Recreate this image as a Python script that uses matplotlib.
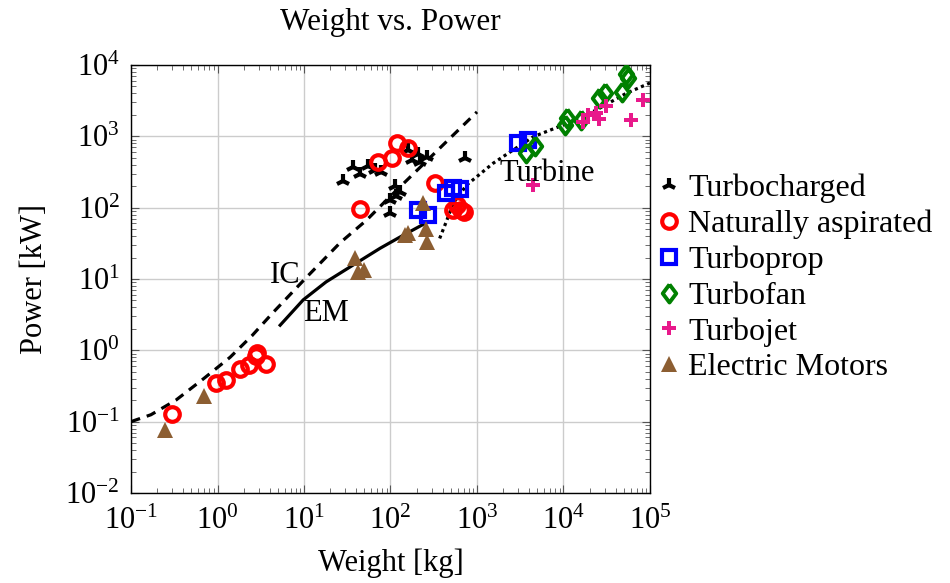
import numpy as np
import matplotlib
matplotlib.use("Agg")
import matplotlib.pyplot as plt
from matplotlib.ticker import LogLocator, NullFormatter

plt.rcParams['font.family'] = ['Liberation Serif', 'DejaVu Serif']
plt.rcParams['mathtext.fontset'] = 'custom'
plt.rcParams['mathtext.rm'] = 'Liberation Serif'
plt.rcParams['mathtext.it'] = 'Liberation Serif:italic'

# weight [kg], power [kW]
turbo_w = [28, 37, 44, 55, 66, 78, 113, 128, 98, 98, 160, 210, 220, 265, 177, 725, 116]
turbo_p = [240, 370, 300, 380, 340, 320, 200, 165, 130, 85, 640, 560, 440, 510, 465, 500, 145]

nat_w = [0.3, 0.97, 1.25, 1.8, 2.3, 2.75, 2.9, 3.6, 72, 103, 120, 160, 44, 330, 530, 590, 650, 710]
nat_p = [0.13, 0.35, 0.38, 0.55, 0.62, 0.83, 0.93, 0.65, 430, 490, 800, 690, 95, 220, 93, 108, 92, 88]

prop_w = [210, 270, 440, 530, 640, 3000, 3900]
prop_p = [92, 79, 160, 190, 180, 800, 890]

fan_w = [3700, 4700, 10500, 11000, 16000, 26000, 30000, 47000, 53000, 56000]
fan_p = [580, 730, 1450, 1800, 1700, 3400, 4000, 4200, 7600, 6500]

jet_w = [4500, 17000, 19000, 24000, 26000, 31000, 61000, 82000]
jet_p = [210, 1600, 2000, 2100, 1750, 2700, 1700, 3200]

em_w = [0.25, 0.7, 39, 42, 50, 147, 160, 237, 260, 267]
em_p = [0.076, 0.23, 20, 12.5, 13.5, 41, 44, 118, 51, 33]

# trend lines
ic_w = [0.1, 0.17, 0.33, 0.69, 1.4, 2.5, 4.4, 10.8, 26, 53, 90, 1000]
ic_p = [0.1, 0.125, 0.2, 0.4, 0.8, 1.6, 3.4, 10.7, 32, 67, 128, 2200]

emfit_w = [5.3, 9.8, 18, 37, 76, 140, 250]
emfit_p = [2.25, 5.1, 9.1, 15.7, 27, 41, 60]

turbine_w = [370, 449, 530, 760, 1540, 2600, 4500, 9900, 24000, 53000, 100000]
turbine_p = [37, 67, 115, 208, 420, 640, 990, 1440, 2340, 4000, 5600]

diamond = [(0, 1), (0.75, 0), (0, -1), (-0.75, 0), (0, 1)]

fig = plt.figure(figsize=(9.5, 5.83), dpi=100)
ax = fig.add_axes([0.1379, 0.1544, 0.5463, 0.7341])

ax.plot(ic_w, ic_p, color='black', lw=2.3, ls=(0, (3, 2.2)), zorder=2)
ax.plot(emfit_w, emfit_p, color='black', lw=2.3, zorder=2)
ax.plot(turbine_w, turbine_p, color='black', lw=2.3, ls=(0, (1, 1.1)), zorder=2)

ax.plot(turbo_w, turbo_p, ls='none', marker='2', ms=10, mew=3, color='black', label='Turbocharged', zorder=3)
ax.plot(nat_w, nat_p, ls='none', marker='o', ms=10.5, mew=3, mfc='none', mec='red', label='Naturally aspirated', zorder=3)
ax.plot(prop_w, prop_p, ls='none', marker='s', ms=10.5, mew=3, mfc='none', mec='blue', label='Turboprop', zorder=3)
ax.plot(fan_w, fan_p, ls='none', marker=diamond, ms=13, mew=2.8, mfc='none', mec='#008000', label='Turbofan', zorder=3)
ax.plot(jet_w, jet_p, ls='none', marker='P', ms=10, mew=0, color='#e8198b', label='Turbojet', zorder=3)
ax.plot(em_w, em_p, ls='none', marker='^', ms=11.5, mew=0, color='#8c5e32', label='Electric Motors', zorder=3)

ax.text(6.0, 11.3, 'IC', fontsize=22, ha='center', va='center')
ax.text(18, 3.3, 'EM', fontsize=22, ha='center', va='center')
ax.text(6400, 306, 'Turbine', fontsize=22, ha='center', va='center')

ax.set_xscale('log')
ax.set_yscale('log')
ax.set_xlim(1e-1, 1e5)
ax.set_ylim(1e-2, 1e4)
for axis in (ax.xaxis, ax.yaxis):
    axis.set_major_locator(LogLocator(base=10, numticks=20))
    axis.set_minor_locator(LogLocator(base=10, subs=np.arange(2, 10), numticks=100))
    axis.set_minor_formatter(NullFormatter())
ax.tick_params(which='both', direction='in', top=True, right=True, color='#555555')
ax.tick_params(which='major', length=6, labelsize=22, pad=8)
ax.tick_params(axis='x', which='major', pad=10)
ax.tick_params(which='minor', length=3.5)
ax.grid(True, which='major', color='#cccccc', lw=1)
ax.set_axisbelow(True)
for s in ax.spines.values():
    s.set_linewidth(1.0)

ax.set_title('Weight vs. Power', fontsize=22.5, pad=25)
ax.set_xlabel('Weight [kg]', fontsize=22, labelpad=9)
ax.set_ylabel('Power [kW]', fontsize=22, labelpad=12)

fig.legend(loc='center left', bbox_to_anchor=(0.681, 0.523), frameon=False, fontsize=23,
           handlelength=0.6, handletextpad=0.3, labelspacing=0.2, borderaxespad=0)

fig.savefig('out.png', dpi=100)
